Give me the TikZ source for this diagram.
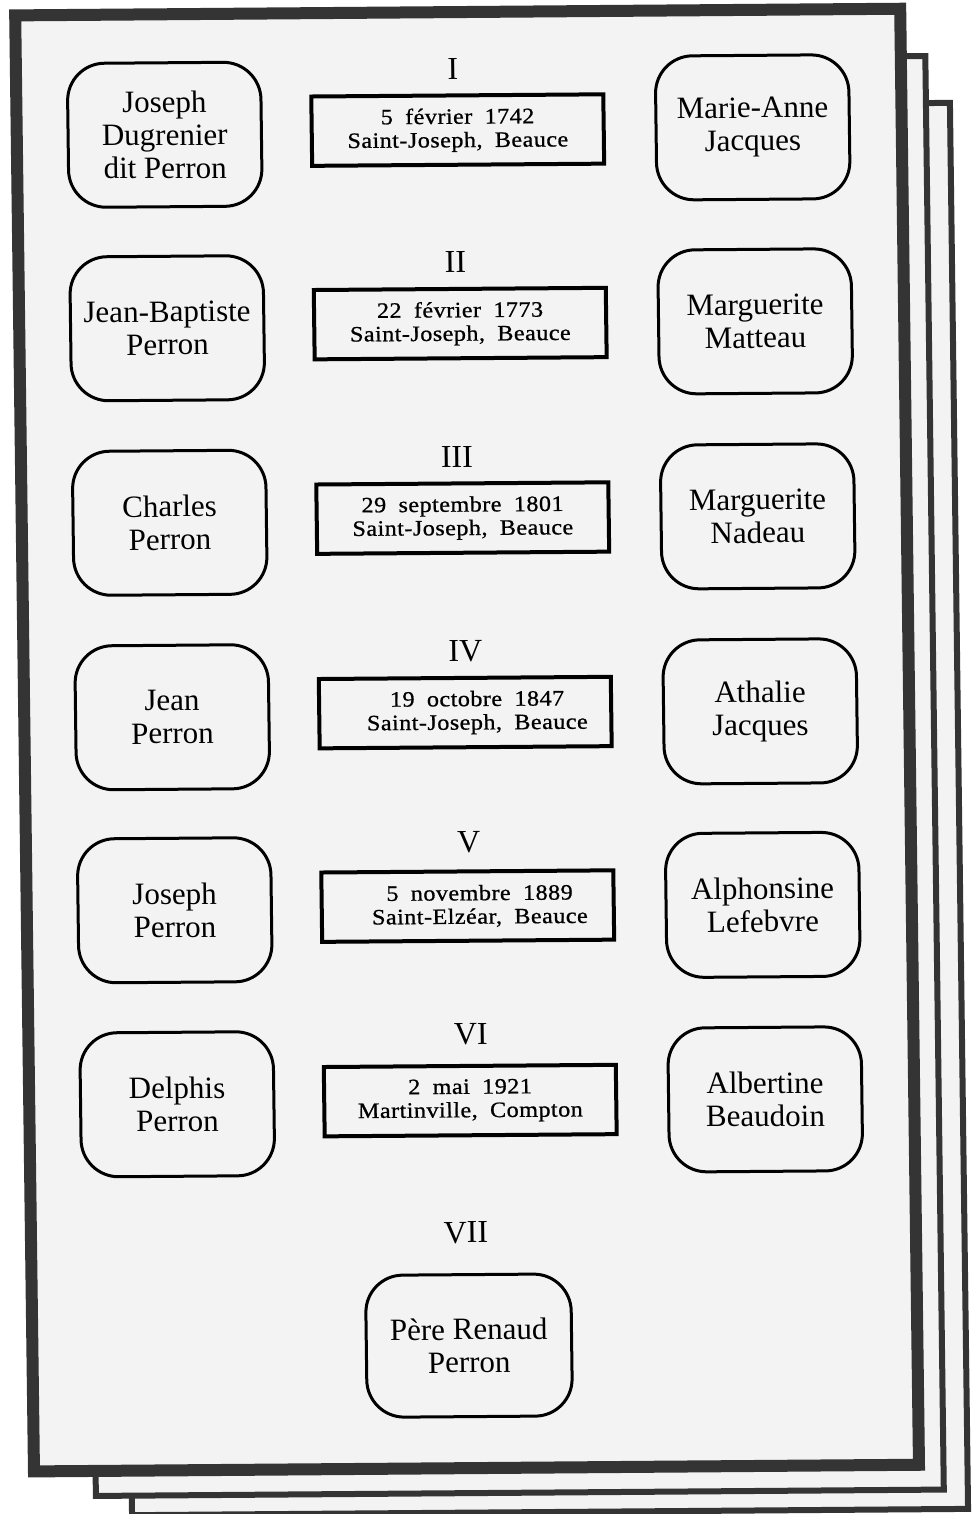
\documentclass[tikz,border=0pt]{standalone}
\usepackage{fontspec}
\setmainfont{Liberation Serif}
\newfontfamily\datefont[FakeStretch=1.1,LetterSpace=2,WordSpace=1.9,FakeBold=0.8]{Liberation Serif}
\definecolor{framegray}{RGB}{52,52,52}
\definecolor{pagefill}{RGB}{243,243,243}
\tikzset{
  person/.style={draw=black, line width=2.25pt, rounded corners=28pt,
    minimum width=145pt, minimum height=108pt, inner sep=0pt, align=center,
    font=\fontsize{23.25}{24.75}\selectfont},
  datebox/.style={draw=black, line width=3pt, minimum width=219pt,
    minimum height=52pt, inner sep=0pt, align=center,
    font=\datefont\fontsize{16.5}{17.6}\selectfont},
  gen/.style={inner sep=0pt, font=\fontsize{24}{24}\selectfont},
  pageframe/.style={draw=framegray, fill=pagefill},
}
\begin{document}
\begin{tikzpicture}[x=0.75pt,y=-0.75pt]
\useasboundingbox (0,0) rectangle (975,1514);
\fill[white] (0,0) rectangle (975,1514);
\begin{scope}[cm={1,0.0075,-0.0129,1,(0,0)}, transform shape]
  % stacked pages
  \draw[pageframe, line width=4.5pt] (112.5,110) rectangle (948.5,1516);
  \draw[pageframe, line width=4.5pt] (76.6,63) rectangle (924.5,1496.5);
  \draw[pageframe, line width=9pt] (15,15.5) rectangle (900,1471.5);

  % generation I
  \node[gen] (g1) at (452,72) {I};
  \node[person] (h1) at (163,136) {Joseph\\Dugrenier\\dit Perron};
  \node[datebox] (m1) at (456,133.5) {5 février 1742\\Saint-Joseph, Beauce};
  \node[person] (w1) at (751,133) {Marie-Anne\\Jacques};

  % generation II
  \node[gen] (g2) at (452,265) {II};
  \node[person] (h2) at (163,329.5) {Jean-Baptiste\\Perron};
  \node[datebox] (m2) at (456,327) {22 février 1773\\Saint-Joseph, Beauce};
  \node[person] (w2) at (751,327) {Marguerite\\Matteau};

  % generation III
  \node[gen] (g3) at (451,460) {III};
  \node[person] (h3) at (163,524) {Charles\\Perron};
  \node[datebox] (m3) at (456,521.5) {29 septembre 1801\\Saint-Joseph, Beauce};
  \node[person] (w3) at (751,522) {Marguerite\\Nadeau};

  % generation IV
  \node[gen] (g4) at (457,655) {IV};
  \node[person] (h4) at (163,718.5) {Jean\\Perron};
  \node[datebox] (m4) at (456,716) {\hspace*{18pt}19 octobre 1847\\\hspace*{18pt}Saint-Joseph, Beauce};
  \node[person] (w4) at (751,717) {Athalie\\Jacques};

  % generation V
  \node[gen] (g5) at (458,846) {V};
  \node[person] (h5) at (163,911.5) {Joseph\\Perron};
  \node[datebox] (m5) at (456,909.5) {\hspace*{18pt}5 novembre 1889\\\hspace*{18pt}Saint-Elzéar, Beauce};
  \node[person] (w5) at (751,910.5) {Alphonsine\\Lefebvre};

  % generation VI
  \node[gen] (g6) at (457.5,1038) {VI};
  \node[person] (h6) at (163,1105.5) {Delphis\\Perron};
  \node[datebox] (m6) at (456,1104) {2 mai 1921\\Martinville, Compton};
  \node[person] (w6) at (751,1105) {Albertine\\Beaudoin};

  % generation VII
  \node[gen] (g7) at (450,1236) {VII};
  \node[person, minimum width=154pt, minimum height=106.5pt] (p7) at (451.6,1349) {Père Renaud\\Perron};
\end{scope}
\end{tikzpicture}
\end{document}
